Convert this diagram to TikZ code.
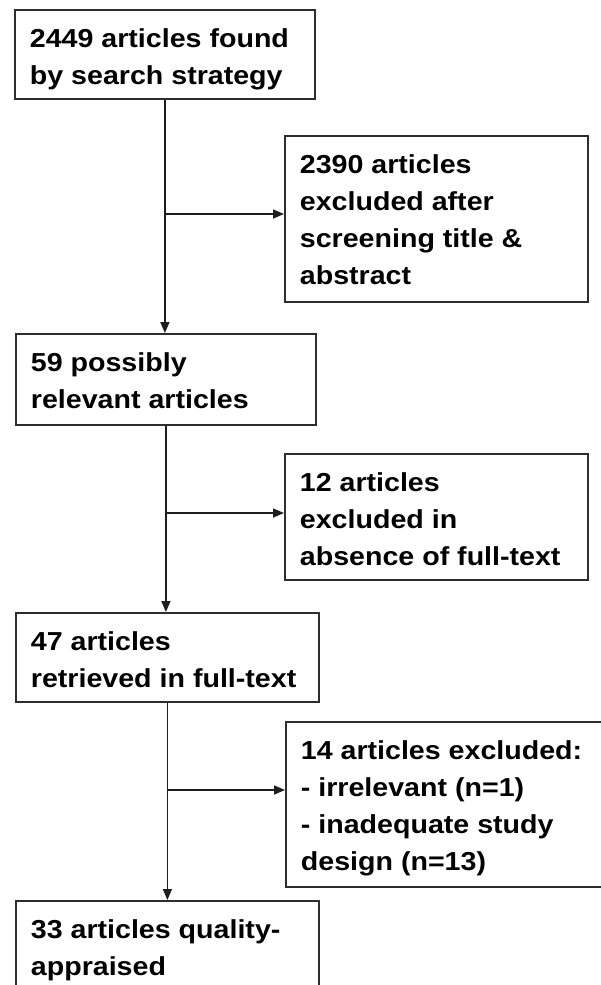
\documentclass[tikz,border=0pt]{standalone}
\usepackage{fontspec}
\setmainfont{Liberation Sans}[FakeStretch=1.1]
\usetikzlibrary{arrows.meta,calc}
\definecolor{boxgray}{HTML}{2E2E2E}
\definecolor{linegray}{HTML}{1E1E1E}
\newcommand{\flowtext}[3]{\parbox[c][#2][t]{#1}{\raggedright\rule{0pt}{38pt}#3}}
\tikzset{
  flowbox/.style={draw=boxgray, line width=1.8pt, inner xsep=15pt, inner ysep=0pt,
    anchor=north west, font=\fontsize{26}{37}\selectfont\bfseries, text=black},
  flowarrow/.style={draw=linegray, line width=1.5pt, -{Triangle[length=11pt,width=9pt]}},
}
\begin{document}
\begin{tikzpicture}
\useasboundingbox (0pt,0pt) rectangle (600pt,-985pt);
\fill[white] (0pt,0pt) rectangle (600pt,-985pt);

\node[flowbox] (b1) at (14pt,-9pt)   {\flowtext{270pt}{89pt}{2449 articles found\\by search strategy}};
\node[flowbox] (b2) at (284pt,-135pt){\flowtext{273pt}{166pt}{2390 articles\\excluded after\\screening title \&\\abstract}};
\node[flowbox] (b3) at (15pt,-333pt) {\flowtext{270pt}{91pt}{59 possibly\\relevant articles}};
\node[flowbox] (b4) at (284pt,-453pt){\flowtext{273pt}{126pt}{12 articles\\excluded in\\absence of full-text}};
\node[flowbox] (b5) at (15pt,-612pt) {\flowtext{273pt}{89pt}{47 articles\\retrieved in full-text}};
\node[flowbox] (b6) at (285pt,-721pt){\flowtext{300pt}{165pt}{14 articles excluded:\\- irrelevant (n=1)\\- inadequate study\\design (n=13)}};
\node[flowbox] (b7) at (15pt,-900pt) {\flowtext{273pt}{110pt}{33 articles quality-\\appraised}};

\coordinate (y1) at (0pt,-214pt);
\coordinate (y2) at (0pt,-513pt);
\coordinate (y3) at (0pt,-790pt);
\coordinate (j1) at (b1.south |- y1);
\coordinate (j2) at (b3.south |- y2);
\coordinate (j3) at (b5.south |- y3);

\draw[flowarrow] (b1.south) -- (b1.south |- b3.north);
\draw[flowarrow] (b3.south) -- (b3.south |- b5.north);
\draw[flowarrow] (b5.south) -- (b5.south |- b7.north);

\draw[flowarrow] (j1) -- (j1 -| b2.west);
\draw[flowarrow] (j2) -- (j2 -| b4.west);
\draw[flowarrow] (j3) -- (j3 -| b6.west);
\end{tikzpicture}
\end{document}
